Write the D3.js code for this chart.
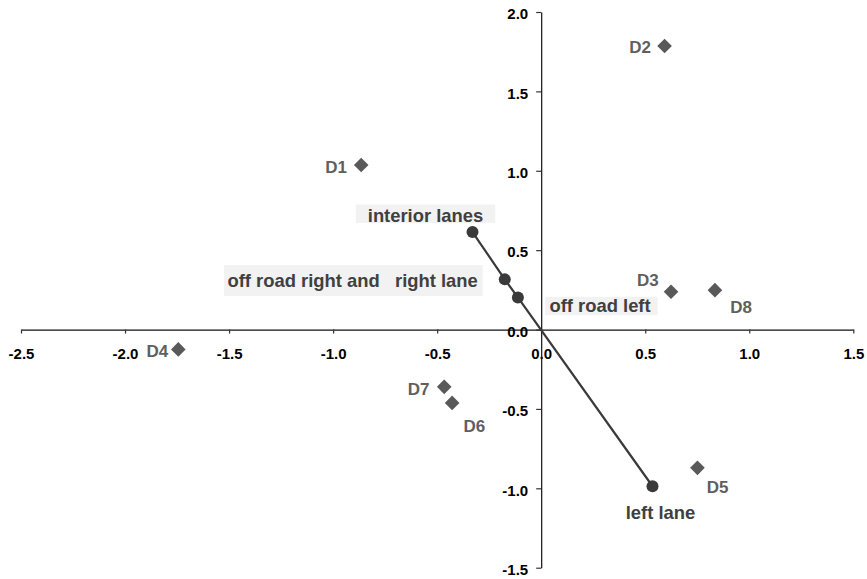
<!DOCTYPE html>
<html>
<head>
<meta charset="utf-8">
<script src="https://cdn.jsdelivr.net/npm/d3@7"></script>
<style>
  html, body { margin: 0; padding: 0; background: #ffffff; }
  svg { display: block; font-family: Arial, "Liberation Sans", sans-serif; }
</style>
</head>
<body>
<svg id="chart" width="867" height="579"></svg>
<script>
// Diagnostic points (D1–D8)
const dNames = ["D1", "D2", "D3", "D4", "D5", "D6", "D7", "D8"];
const dX = [-0.865, 0.593, 0.624, -1.744, 0.751, -0.428, -0.466, 0.835];
const dY = [1.036, 1.786, 0.238, -0.125, -0.871, -0.462, -0.361, 0.248];

// Lane categories along the fitted direction
const laneNames = ["interior lanes", "off road right and   right lane", "off road left", "left lane"];
const laneX = [-0.330, -0.175, -0.112, 0.535];
const laneY = [0.614, 0.316, 0.202, -0.987];

// Axis ticks
const xTicks = [-2.5, -2.0, -1.5, -1.0, -0.5, 0.0, 0.5, 1.0, 1.5];
const xTickLabels = ["-2.5", "-2.0", "-1.5", "-1.0", "-0.5", "0.0", "0.5", "1.0", "1.5"];
const yTicks = [-1.5, -1.0, -0.5, 0.0, 0.5, 1.0, 1.5, 2.0];
const yTickLabels = ["-1.5", "-1.0", "-0.5", "0.0", "0.5", "1.0", "1.5", "2.0"];

const svg = d3.select("#chart");

const x = d3.scaleLinear().domain([-2.5, 1.5]).range([21, 853.3]);
const y = d3.scaleLinear().domain([-1.5, 2.0]).range([567.7, 12]);

// x axis through y = 0
const xAxis = svg.append("g")
  .attr("transform", `translate(0,${y(0)})`)
  .call(d3.axisBottom(x)
    .tickValues(xTicks)
    .tickFormat((d, i) => xTickLabels[i])
    .tickSize(4)
    .tickSizeOuter(0)
    .tickPadding(15));

// y axis through x = 0
const yAxis = svg.append("g")
  .attr("transform", `translate(${x(0)},0)`)
  .call(d3.axisLeft(y)
    .tickValues(yTicks)
    .tickFormat((d, i) => yTickLabels[i])
    .tickSize(5)
    .tickSizeOuter(0)
    .tickPadding(8));

[xAxis, yAxis].forEach(g => {
  g.attr("font-size", 15).attr("font-family", "Arial, 'Liberation Sans', sans-serif");
  g.select(".domain").attr("stroke", "#111").attr("stroke-width", 1.2);
  g.selectAll(".tick line").attr("stroke", "#333").attr("stroke-width", 1.2);
  g.selectAll(".tick text")
    .attr("fill", "#000")
    .style("font-size", "15px")
    .style("font-weight", "bold");
});
yAxis.selectAll(".tick text").attr("dy", "0.45em");
// keep the vertical axis line above the x labels
yAxis.raise();

// Lane direction line and markers
const lanes = laneNames.map((n, i) => ({ name: n, x: laneX[i], y: laneY[i] }));

svg.append("path")
  .datum(lanes)
  .attr("fill", "none")
  .attr("stroke", "#3a3a3a")
  .attr("stroke-width", 2.2)
  .attr("d", d3.line().x(d => x(d.x)).y(d => y(d.y)));

svg.selectAll("circle.lane")
  .data(lanes)
  .join("circle")
  .attr("class", "lane")
  .attr("cx", d => x(d.x))
  .attr("cy", d => y(d.y))
  .attr("r", 6)
  .attr("fill", "#3a3a3a");

// Lane labels: offset from the marker, with optional shaded backing box
const laneLabelStyle = {
  "interior lanes": { dx: -47, dy: -10, anchor: "middle", box: [12, 12, 17.5, 1] },
  "off road right and   right lane": { dx: -27, dy: 7.4, anchor: "end", box: [3.5, 5, 21.7, 9.3] },
  "off road left": { dx: 31.6, dy: 14.4, anchor: "start", box: [4.3, 7, 15, 3.3] },
  "left lane": { dx: 8, dy: 33, anchor: "middle", box: null }
};

const laneLabels = svg.selectAll("g.lane-label")
  .data(lanes)
  .join("g")
  .attr("class", "lane-label");

laneLabels.each(function (d) {
  const st = laneLabelStyle[d.name];
  const g = d3.select(this);
  const rect = g.append("rect").attr("fill", "#f2f2f2");
  const t = g.append("text")
    .attr("x", x(d.x) + st.dx)
    .attr("y", y(d.y) + st.dy)
    .attr("text-anchor", st.anchor)
    .attr("font-size", 18.4)
    .attr("font-weight", "bold")
    .attr("fill", "#404040")
    .style("white-space", "pre")
    .attr("xml:space", "preserve")
    .text(d.name);
  if (st.box) {
    const bb = t.node().getBBox();
    const base = y(d.y) + st.dy;
    rect.attr("x", bb.x - st.box[0])
      .attr("width", bb.width + st.box[0] + st.box[1])
      .attr("y", base - st.box[2])
      .attr("height", st.box[2] + st.box[3]);
  } else {
    rect.remove();
  }
});

// Diagnostic diamonds
const dPoints = dNames.map((n, i) => ({ name: n, x: dX[i], y: dY[i] }));
const diamond = r => `M0,${-r}L${r},0L0,${r}L${-r},0Z`;

svg.selectAll("path.dpt")
  .data(dPoints)
  .join("path")
  .attr("class", "dpt")
  .attr("transform", d => `translate(${x(d.x)},${y(d.y)})`)
  .attr("d", diamond(7.3))
  .attr("fill", "#595959");

const dLabelStyle = {
  D1: { dx: -14.3, dy: 7.7, anchor: "end" },
  D2: { dx: -13.6, dy: 7.3, anchor: "end" },
  D3: { dx: -12.4, dy: -5.7, anchor: "end" },
  D4: { dx: -10, dy: 7.4, anchor: "end" },
  D5: { dx: 9.4, dy: 25.6, anchor: "start" },
  D6: { dx: 11.3, dy: 29, anchor: "start" },
  D7: { dx: -14.7, dy: 8.3, anchor: "end" },
  D8: { dx: 15.3, dy: 23.3, anchor: "start" }
};

svg.selectAll("text.dlabel")
  .data(dPoints)
  .join("text")
  .attr("class", "dlabel")
  .attr("x", d => x(d.x) + dLabelStyle[d.name].dx)
  .attr("y", d => y(d.y) + dLabelStyle[d.name].dy)
  .attr("text-anchor", d => dLabelStyle[d.name].anchor)
  .attr("font-size", 17)
  .attr("font-weight", "bold")
  .attr("fill", "#5f5f5f")
  .text(d => d.name);
</script>
</body>
</html>
